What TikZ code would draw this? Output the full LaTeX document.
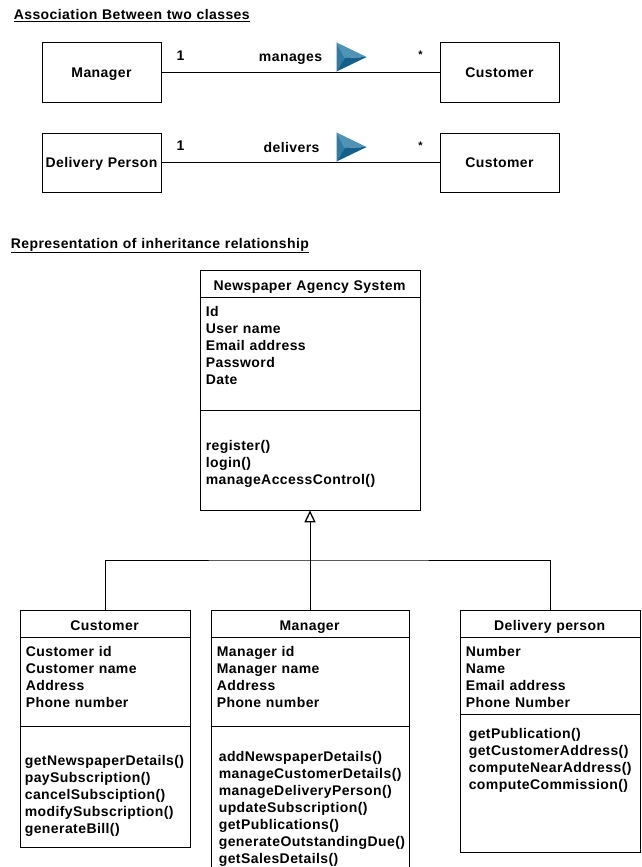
\documentclass[tikz,border=0pt]{standalone}
\usepackage{fontspec}
\setmainfont{Liberation Sans}[LetterSpace=3,WordSpace=1.1]
\usetikzlibrary{arrows.meta}
\definecolor{arrowtop}{HTML}{4F93B5}
\definecolor{arrowleft}{HTML}{2C7CA6}
\definecolor{arrowlow}{HTML}{14608A}
\tikzset{
  classbox/.style={draw, line width=0.8pt, anchor=north west, inner sep=0pt},
  members/.style={font=\bfseries\fontsize{14}{17}\selectfont, inner sep=0pt, anchor=north west, align=left},
  label/.style={font=\bfseries\fontsize{14}{17}\selectfont, inner sep=0pt, text height=12pt, text depth=1pt},
  wire/.style={line width=0.8pt}
}
% Triangle that marks the reading direction of an association
\newcommand{\readmark}[1]{
  \fill[arrowtop] (337,#1-14.5) -- (367,#1) -- (345,#1+1) -- cycle;
  \fill[arrowleft] (337,#1-14.5) -- (345,#1+1) -- (337,#1+14.5) -- cycle;
  \fill[arrowlow] (337,#1+14.5) -- (345,#1+1) -- (367,#1) -- cycle;
}
\begin{document}
\begin{tikzpicture}[x=1pt, y=-1pt]
  \useasboundingbox (0.4,0.5) rectangle (641.4,867.5);

  % Titles
  \node[label, anchor=west] (assoctitle) at (14,15) {\underline{Association Between two classes}};
  \node[label, anchor=west] (inhertitle) at (11,243) {\underline{Representation of inheritance relationship}};

  % First association
  \node[classbox, minimum width=119pt, minimum height=59pt, label] (manager) at (42,43) {Manager};
  \node[classbox, minimum width=119pt, minimum height=59pt, label] (customerA) at (440,43) {Customer};
  \draw[wire] (manager.east) -- (customerA.west);
  \readmark{57.5}
  \node[label] (oneA) at (181,55) {1};
  \node[label, font=\bfseries\fontsize{11}{13}\selectfont] (manyA) at (421,54) {*};
  \node[label] (manages) at (291,57) {manages};

  % Second association
  \node[classbox, minimum width=119pt, minimum height=59pt, label] (delivery) at (42,133) {Delivery Person};
  \node[classbox, minimum width=119pt, minimum height=59pt, label] (customerB) at (440,133) {Customer};
  \draw[wire] (delivery.east) -- (customerB.west);
  \readmark{147.5}
  \node[label] (oneB) at (181,145) {1};
  \node[label, font=\bfseries\fontsize{11}{13}\selectfont] (manyB) at (421,144) {*};
  \node[label] (delivers) at (292,147) {delivers};

  % Parent class
  \node[classbox, minimum width=220pt, minimum height=240pt] (agency) at (200,270) {};
  \draw[wire] (200,297.5) -- (420,297.5);
  \draw[wire] (200,410.5) -- (420,410.5);
  \node[label] (agencyname) at (310,285) {Newspaper Agency System};
  \node[members] (agencyattr) at (206,307) {Id\\User name\\Email address\\Password\\Date};
  \node[members] (agencyops) at (206,441) {register()\\login()\\manageAccessControl()};

  % Customer class
  \node[classbox, minimum width=170pt, minimum height=237pt] (customer) at (20,610) {};
  \draw[wire] (20,637.5) -- (190,637.5);
  \draw[wire] (20,726.5) -- (190,726.5);
  \node[label] (customername) at (105,625) {Customer};
  \node[members] (customerattr) at (26,647) {Customer id\\Customer name\\Address\\Phone number};
  \node[members] (customerops) at (25,755.5) {getNewspaperDetails()\\paySubscription()\\cancelSubsciption()\\modifySubscription()\\generateBill()};

  % Manager class
  \node[classbox, minimum width=198pt, minimum height=257pt] (mgr) at (211,610) {};
  \draw[wire] (211,637.5) -- (409,637.5);
  \draw[wire] (211,726.5) -- (409,726.5);
  \node[label] (mgrname) at (310,625) {Manager};
  \node[members] (mgrattr) at (217,647) {Manager id\\Manager name\\Address\\Phone number};
  \node[members] (mgrops) at (219,751.5) {addNewspaperDetails()\\manageCustomerDetails()\\manageDeliveryPerson()\\updateSubscription()\\getPublications()\\generateOutstandingDue()\\getSalesDetails()};

  % Delivery person class
  \node[classbox, minimum width=180pt, minimum height=242pt] (courier) at (460,610) {};
  \draw[wire] (460,637.5) -- (640,637.5);
  \draw[wire] (460,714.5) -- (640,714.5);
  \node[label] (couriername) at (550,625) {Delivery person};
  \node[members] (courierattr) at (466,647) {Number\\Name\\Email address\\Phone Number};
  \node[members] (courierops) at (469,729) {getPublication()\\getCustomerAddress()\\computeNearAddress()\\computeCommission()};

  % Inheritance
  \coordinate (branch) at (310,560.5);
  \draw[wire, -{Triangle[open, length=12pt, width=11pt, line width=1.3pt]}] (mgr.north) -- (agency.south);
  \draw[wire] (customer.north) |- (branch) -| (courier.north);
\end{tikzpicture}
\end{document}
